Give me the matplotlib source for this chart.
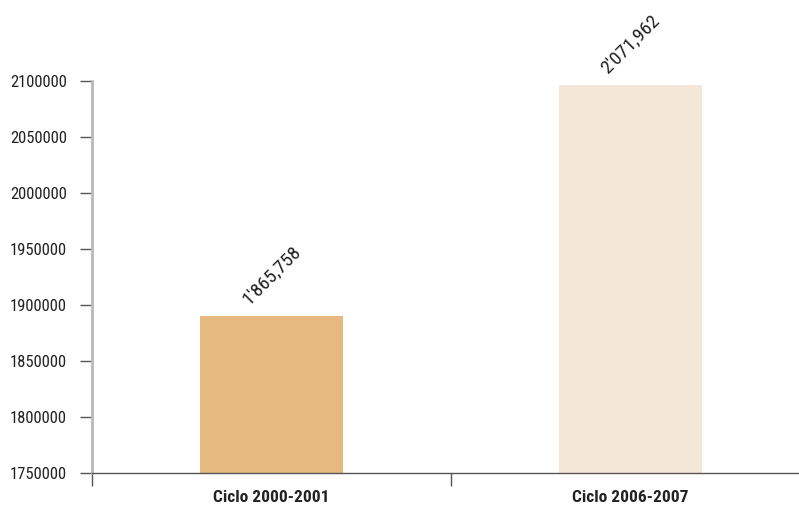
import numpy as np
import matplotlib.pyplot as plt

plt.rcParams['font.family'] = ['Roboto Condensed', 'Barlow Condensed', 'DejaVu Sans']

categories = ['Ciclo 2000-2001', 'Ciclo 2006-2007']
bar_heights = [1890000, 2096000]
value_labels = ["1'865,758", "2'071,962"]
colors = ['#E5B97F', '#F5E7D7']
yticks = np.arange(1750000, 2100001, 50000)

fig = plt.figure(figsize=(7.99, 5.08), dpi=100)
ax = fig.add_axes([92 / 799, 35 / 508, 718 / 799, 392 / 508])

x = np.arange(len(categories))
bars = ax.bar(x, bar_heights, width=0.4, color=colors, zorder=2)

for xi, h, lab in zip(x, bar_heights, value_labels):
    ax.annotate(lab, (xi, h), xytext=(0, 6), textcoords='offset points',
                ha='center', va='bottom', rotation=45, fontsize=14,
                color='#222222', annotation_clip=False)

ax.set_xlim(-0.5, 1.5)
ax.set_ylim(1750000, 2100000)
ax.set_yticks(yticks)
ax.set_yticklabels([str(v) for v in yticks], fontsize=12, color='#222222')

ax.set_xticks(x)
ax.set_xticklabels(categories, fontsize=12.5, fontweight='bold', color='#222222')
ax.set_xticks([-0.5, 0.5, 1.5], minor=True)
ax.tick_params(axis='x', which='major', length=0, pad=12)
ax.tick_params(axis='x', which='minor', length=9, color='#555555', width=1)
ax.tick_params(axis='y', length=9, color='#555555', width=1, pad=9)

for s in ['top', 'right']:
    ax.spines[s].set_visible(False)
ax.spines['left'].set_color('#b8b8b8')
ax.spines['left'].set_linewidth(2)
ax.spines['bottom'].set_color('#555555')
ax.spines['bottom'].set_linewidth(1)

fig.savefig('out.png', dpi=100)
